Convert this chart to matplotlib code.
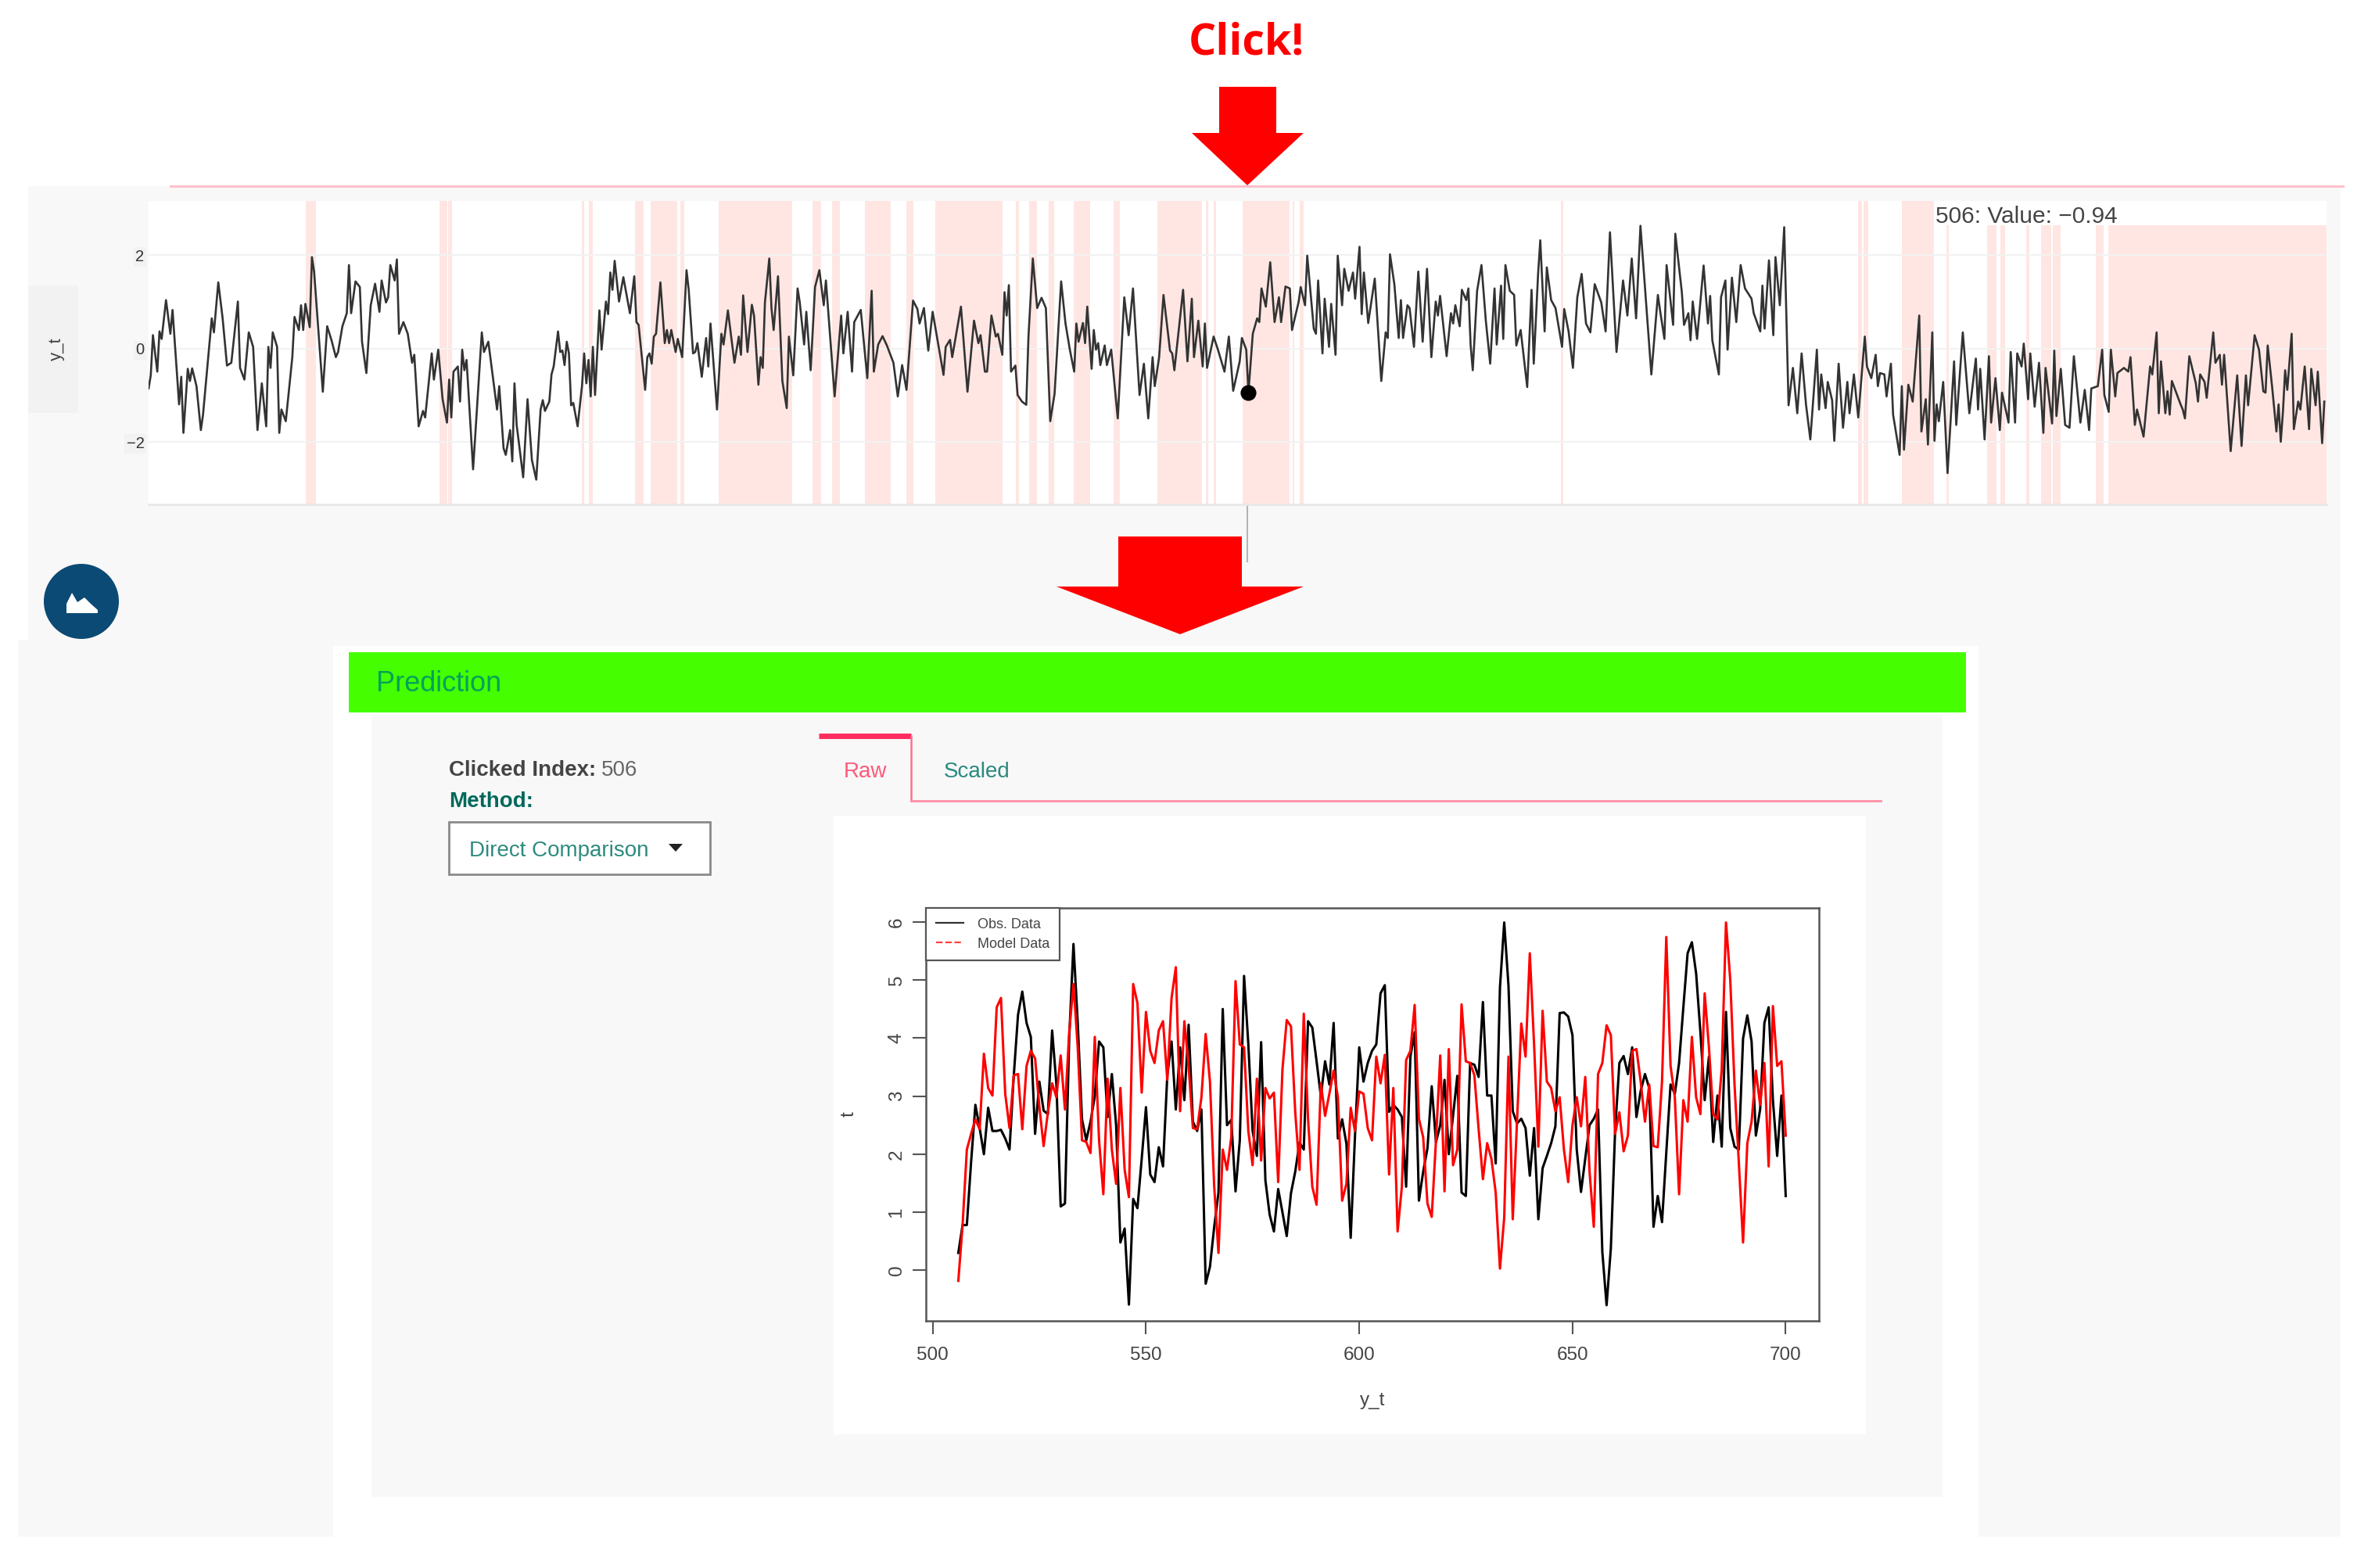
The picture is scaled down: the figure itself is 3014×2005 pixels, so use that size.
import matplotlib
matplotlib.use("Agg")
import matplotlib.pyplot as plt
import numpy as np
from matplotlib.lines import Line2D
from matplotlib.patches import Circle, Polygon, Rectangle

W, H = 3014, 2005

plt.rcParams["font.family"] = ["Liberation Sans", "DejaVu Sans"]

# top series: turning points (index, value)
top_index = [
    1, 2, 3, 5, 6, 7, 9, 11, 12, 13, 15, 16, 17, 19, 20, 21, 23, 25, 26, 30,
    31, 33, 35, 37, 39, 42, 43, 45, 47, 49, 51, 53, 55, 56, 57, 58, 60, 61, 62, 64,
    67, 68, 70, 71, 72, 73, 75, 76, 77, 81, 83, 85, 87, 88, 90, 92, 93, 94, 96, 98,
    99, 101, 103, 105, 107, 108, 110, 111, 112, 114, 115, 116, 118, 120, 122, 123, 125, 127, 128, 131,
    132, 134, 136, 138, 139, 140, 141, 143, 144, 145, 146, 147, 150, 154, 155, 157, 161, 162, 164, 165,
    167, 168, 169, 170, 173, 175, 177, 179, 181, 182, 183, 185, 186, 187, 189, 190, 191, 192, 193, 194,
    195, 196, 198, 200, 201, 202, 203, 204, 205, 206, 208, 209, 211, 212, 213, 214, 215, 217, 219, 222,
    224, 225, 226, 229, 230, 231, 232, 233, 234, 236, 238, 239, 240, 241, 243, 244, 246, 248, 249, 251,
    252, 253, 255, 257, 258, 259, 262, 264, 265, 267, 270, 272, 273, 274, 276, 278, 279, 281, 282, 283,
    284, 286, 287, 288, 290, 292, 294, 295, 297, 299, 300, 302, 303, 305, 307, 309, 311, 312, 316, 319,
    320, 322, 324, 325, 328, 331, 333, 334, 336, 338, 340, 343, 345, 347, 349, 352, 354, 355, 357, 359,
    361, 364, 366, 367, 369, 370, 374, 377, 380, 382, 383, 385, 386, 388, 390, 391, 393, 394, 395, 396,
    397, 399, 400, 402, 404, 405, 407, 409, 411, 413, 415, 417, 420, 422, 424, 426, 427, 428, 430, 431,
    432, 434, 435, 436, 437, 438, 440, 441, 443, 446, 449, 451, 453, 456, 458, 460, 462, 463, 465, 467,
    470, 471, 472, 476, 478, 480, 481, 483, 485, 486, 487, 490, 492, 495, 497, 499, 502, 503, 505, 506,
    508, 510, 511, 512, 514, 516, 518, 520, 521, 523, 525, 526, 529, 530, 532, 533, 536, 537, 538, 540,
    541, 543, 544, 546, 547, 549, 550, 552, 554, 555, 557, 558, 559, 561, 564, 567, 569, 570, 571, 573,
    575, 576, 577, 579, 580, 582, 584, 586, 588, 590, 592, 593, 594, 597, 599, 600, 601, 603, 604, 606,
    607, 608, 609, 611, 613, 615, 617, 619, 620, 622, 623, 624, 626, 628, 629, 631, 634, 636, 637, 639,
    640, 642, 643, 645, 647, 650, 651, 653, 655, 657, 659, 661, 663, 665, 668, 670, 672, 675, 678, 680,
    682, 684, 686, 691, 694, 695, 697, 698, 701, 702, 705, 706, 708, 709, 710, 712, 715, 717, 718, 719,
    722, 723, 725, 726, 728, 730, 732, 734, 737, 738, 741, 742, 743, 745, 747, 748, 750, 752, 754, 756,
    758, 760, 762, 764, 767, 768, 769, 771, 772, 774, 775, 777, 779, 781, 782, 784, 786, 789, 790, 792,
    794, 795, 796, 798, 799, 801, 802, 805, 806, 807, 809, 811, 814, 815, 817, 818, 820, 821, 822, 823,
    825, 827, 830, 831, 834, 837, 840, 841, 842, 844, 846, 847, 849, 851, 852, 855, 856, 858, 859, 861,
    862, 864, 865, 867, 869, 871, 872, 875, 876, 877, 879, 881, 883, 885, 888, 890, 892, 893, 896, 898,
    899, 901, 902, 904, 905, 908, 910, 911, 913, 914, 917, 920, 921, 923, 924, 925, 927, 928, 929, 930,
    934, 935, 936, 938, 941, 942, 943, 945, 946, 949, 950, 952, 953, 954, 957, 960, 962, 964, 965, 968,
    970, 972, 973, 974, 976, 978, 979, 980, 981, 982, 983, 985, 986, 988, 989, 991, 993, 994, 996, 997,
    999, 1000,
]
top_value = [
    -0.85, -0.57, 0.29, -0.49, 0.37, 0.21, 1.04, 0.32, 0.83, 0.15, -1.19, -0.60, -1.80, -0.43, -0.69, -0.42, -0.80, -1.74, -1.41, 0.65,
    0.35, 1.42, 0.65, -0.36, -0.30, 1.01, -0.41, -0.66, 0.35, 0.04, -1.74, -0.74, -1.66, 0.04, -0.41, 0.35, 0.04, -1.80, -1.30, -1.55,
    -0.18, 0.68, 0.40, 0.93, 0.40, 0.96, 0.46, 1.96, 1.65, -0.92, 0.48, 0.18, -0.18, -0.07, 0.48, 0.76, 1.79, 0.76, 1.44, 1.32,
    0.15, -0.52, 0.93, 1.39, 0.79, 1.46, 0.99, 1.10, 1.79, 1.46, 1.91, 0.32, 0.57, 0.32, -0.30, -0.13, -1.66, -1.33, -1.47, -0.10,
    -0.66, -0.02, -1.08, -1.58, -0.66, -1.47, -0.49, -0.38, -1.13, -0.02, -0.46, -0.24, -2.58, 0.35, -0.07, 0.15, -1.30, -0.80, -2.13, -2.27,
    -1.74, -2.41, -0.74, -1.63, -2.75, -1.08, -2.38, -2.80, -1.30, -1.10, -1.33, -1.13, -0.55, -0.38, 0.37, -0.07, -0.04, -0.35, 0.15, -0.10,
    -1.21, -1.16, -1.66, -0.80, -0.10, -0.74, -0.24, -1.02, 0.04, -0.99, 0.82, -0.02, 1.01, 0.74, 1.63, 1.26, 1.88, 1.01, 1.53, 0.76,
    1.55, 0.57, 0.51, -0.88, -0.18, -0.10, -0.32, 0.26, 0.32, 1.42, 0.12, 0.40, 0.12, 0.40, -0.07, 0.21, -0.18, 1.68, 1.26, -0.10,
    -0.07, 0.12, -0.60, 0.23, -0.38, 0.54, -1.30, 0.32, 0.09, 0.82, -0.30, 0.26, -0.13, 1.14, -0.07, 0.94, 0.71, -0.77, -0.18, -0.41,
    0.99, 1.93, 0.87, 0.40, 1.55, -0.69, -1.27, 0.26, -0.57, 1.29, 0.99, 0.09, 0.79, -0.46, 1.32, 1.68, 0.93, 1.46, -1.02, 0.71,
    -0.10, 0.79, -0.49, 0.57, 0.83, -0.63, 1.24, -0.49, 0.09, 0.27, 0.07, -0.30, -1.02, -0.35, -0.88, 1.03, 0.85, 0.54, 0.87, -0.04,
    0.79, -0.02, -0.56, 0.04, 0.19, -0.18, 0.90, -0.92, 0.60, 0.12, 0.29, -0.49, -0.49, 0.71, 0.26, 0.32, -0.13, 1.21, 0.71, 1.36,
    -0.49, -0.36, -0.99, -1.13, -1.20, 0.26, 1.93, 0.87, 1.09, 0.87, -1.55, -0.96, 1.44, 0.54, -0.02, -0.49, 0.54, 0.15, 0.55, 0.12,
    0.90, -0.43, 0.40, -0.02, 0.12, -0.35, 0.07, -0.35, -0.02, -1.49, 1.10, 0.29, 1.29, -0.99, -0.32, -1.49, -0.18, -0.80, -0.18, 1.15,
    -0.04, -0.10, -0.46, 1.26, -0.27, 1.07, -0.18, 0.60, -0.38, 0.54, -0.41, 0.26, -0.02, -0.49, 0.26, -0.90, -0.27, 0.23, -0.02, -0.94,
    0.32, 0.65, 0.57, 1.29, 0.90, 1.85, 0.57, 1.10, 0.57, 1.33, 1.29, 0.40, 0.99, 1.32, 0.93, 1.99, 0.43, 0.32, 1.46, -0.10,
    1.07, 0.04, 0.96, -0.13, 1.99, 0.93, 1.71, 1.24, 1.63, 1.07, 2.18, 0.74, 1.63, 0.55, 1.50, -0.69, 0.35, 0.23, 2.02, 1.38,
    0.23, 1.04, 0.23, 0.93, 0.87, 0.04, 1.65, 0.15, 1.71, -0.18, 1.01, 0.71, 1.13, -0.16, 0.76, 0.54, 0.93, 0.48, 1.26, 1.04,
    1.29, 0.09, -0.46, 1.24, 1.79, 0.60, -0.32, 1.29, 0.09, 1.35, 0.21, 1.79, 1.24, 1.15, 0.07, 0.40, -0.82, 1.26, -0.32, 1.60,
    2.32, 0.37, 1.74, 1.04, 0.87, 0.04, 0.85, 0.37, -0.41, 1.10, 1.60, 0.54, 0.35, 1.38, 0.99, 0.37, 2.49, -0.07, 1.46, 0.71,
    1.93, 0.65, 2.63, -0.55, 1.15, 0.82, 0.21, 1.79, 0.51, 2.46, 1.21, 0.51, 0.76, 0.18, 1.01, 0.21, 1.78, 0.54, 1.13, 0.18,
    -0.55, 1.10, 1.46, -0.02, 1.52, 0.57, 1.79, 1.29, 1.07, 0.76, 0.37, 1.35, 0.43, 1.89, 0.29, 1.96, 0.93, 2.60, -1.21, -0.41,
    -1.38, -0.10, -1.19, -1.94, -0.02, -1.30, -0.55, -1.27, -0.71, -1.10, -1.97, -0.32, -1.69, -0.71, -1.38, -0.55, -1.47, 0.26, -0.38, -0.63,
    -0.13, -0.80, -0.52, -0.55, -1.02, -0.32, -1.41, -2.27, -0.80, -2.16, -0.77, -1.13, 0.71, -1.77, -1.08, -2.05, 0.35, -1.97, -1.19, -1.55,
    -0.71, -2.66, -0.27, -1.63, 0.35, -1.38, -0.21, -1.30, -0.43, -1.94, -0.16, -1.58, -0.63, -1.74, -0.94, -1.58, -0.07, -1.58, -0.10, -0.38,
    0.11, -1.08, -0.10, -1.24, -0.30, -1.80, -0.41, -1.60, -0.04, -1.44, -0.43, -1.63, -1.69, -0.16, -1.58, -0.88, -1.74, -0.85, -0.80, -0.02,
    -0.99, -1.35, -0.02, -1.02, -0.52, -0.41, -0.49, -0.18, -1.63, -1.30, -1.88, -0.38, -0.55, 0.35, -1.38, -0.27, -1.38, -0.91, -1.41, -0.69,
    -1.19, -1.30, -1.49, -0.16, -0.74, -1.13, -0.55, -0.71, -1.05, 0.35, -0.30, -0.13, -0.77, -0.13, -2.19, -0.57, -2.08, -0.57, -1.21, 0.29,
    -0.02, -0.91, -0.94, 0.07, -0.80, -1.77, -1.19, -1.99, -1.35, -0.46, -0.88, 0.32, -1.72, -1.13, -1.30, -0.38, -1.72, -0.43, -1.21, -0.49,
    -2.02, -1.13,
]

# shaded anomaly ranges on the top chart
band_start = [
    73, 134.5, 138.6, 200, 203, 224.5, 231.4, 245, 262.7, 305.8, 315, 329.8,
    349, 362.2, 399.3, 405.2, 414.4, 425.6, 444.2, 464.3, 486.5, 490, 503.5,
    526.4, 529.4, 649.6, 786, 788.6, 806.2, 826.4, 845.3, 851.1, 863, 870,
    875.2, 895, 900.7,
]
band_end = [
    78, 138, 140.4, 201, 205, 228.4, 243.7, 247, 296.6, 309.7, 318.4, 341.7,
    352, 393.1, 400.7, 408.9, 416.9, 433.2, 447, 484.5, 487.7, 491, 524.8,
    527, 531.2, 650.7, 787.7, 790.5, 820.6, 827.7, 849.5, 853.4, 864.7, 874.6,
    878.8, 898.6, 1001,
]
clicked_index = 506
clicked_value = -0.94

pred_index = np.arange(506, 701)
obs_values = [
    0.30, 0.78, 0.78, 1.87, 2.85, 2.45, 2.00, 2.80, 2.40, 2.40,
    2.42, 2.27, 2.08, 3.35, 4.40, 4.80, 4.26, 4.02, 2.35, 3.25,
    2.75, 2.69, 4.13, 3.20, 1.10, 1.15, 4.00, 5.62, 4.26, 2.60,
    2.24, 2.56, 3.00, 3.94, 3.84, 2.64, 3.38, 2.50, 0.48, 0.72,
    -0.59, 1.23, 1.07, 1.92, 2.81, 1.65, 1.52, 2.12, 1.79, 3.36,
    3.94, 2.77, 3.84, 2.93, 4.23, 2.56, 2.40, 2.77, -0.23, 0.06,
    0.75, 1.34, 4.50, 2.50, 2.59, 1.36, 2.24, 5.07, 3.89, 2.40,
    1.97, 3.93, 1.55, 0.96, 0.67, 1.40, 1.00, 0.59, 1.33, 1.70,
    2.20, 2.08, 4.29, 4.18, 3.60, 3.00, 3.60, 3.20, 4.26, 2.27,
    2.60, 2.18, 0.56, 2.30, 3.84, 3.25, 3.57, 3.78, 3.89, 4.77,
    4.91, 2.73, 2.85, 2.77, 2.64, 1.44, 3.68, 4.10, 1.20, 1.70,
    2.10, 3.17, 2.21, 2.50, 3.28, 2.00, 2.66, 3.35, 1.34, 1.28,
    3.57, 3.54, 3.33, 4.62, 3.01, 3.01, 1.84, 4.87, 5.99, 4.90,
    2.74, 2.53, 2.61, 2.45, 1.63, 2.45, 0.88, 1.76, 1.97, 2.19,
    2.48, 4.43, 4.44, 4.37, 4.05, 2.08, 1.35, 1.92, 2.50, 2.61,
    2.77, 0.32, -0.60, 0.38, 2.40, 3.57, 3.69, 3.38, 3.84, 2.64,
    3.09, 3.38, 3.14, 0.75, 1.28, 0.83, 2.03, 3.20, 3.04, 3.57,
    4.53, 5.46, 5.65, 5.11, 4.10, 2.93, 3.68, 2.21, 3.01, 2.13,
    4.45, 2.45, 2.13, 2.08, 3.99, 4.39, 3.94, 2.32, 2.77, 4.26,
    4.53, 2.93, 1.97, 3.01, 1.28,
]
model_values = [
    -0.18, 0.78, 2.08, 2.35, 2.60, 2.43, 3.73, 3.14, 3.01, 4.53,
    4.69, 3.04, 2.45, 3.36, 3.38, 2.43, 3.52, 3.78, 3.65, 2.82,
    2.14, 2.72, 3.22, 2.98, 3.70, 2.77, 4.10, 4.93, 3.84, 2.24,
    2.21, 2.02, 4.02, 2.24, 1.31, 3.30, 2.08, 1.49, 3.14, 1.73,
    1.26, 4.93, 4.60, 3.06, 4.45, 3.78, 3.57, 4.13, 4.29, 3.28,
    4.69, 5.22, 2.74, 4.29, 3.52, 2.45, 2.43, 2.98, 4.07, 3.25,
    1.44, 0.30, 2.08, 1.73, 2.29, 4.98, 3.89, 3.84, 2.40, 1.81,
    3.30, 1.89, 3.14, 2.96, 3.06, 1.52, 3.46, 4.31, 4.20, 2.72,
    1.73, 4.42, 2.61, 1.44, 1.13, 3.22, 2.66, 3.04, 3.44, 2.98,
    1.20, 1.49, 2.80, 2.40, 3.08, 3.04, 2.45, 2.24, 3.68, 3.22,
    3.71, 1.65, 3.14, 0.67, 1.44, 3.62, 3.78, 4.57, 2.61, 2.29,
    1.15, 0.92, 2.24, 3.70, 1.36, 3.81, 1.81, 2.08, 4.58, 3.60,
    3.57, 3.36, 2.43, 1.57, 2.19, 1.92, 1.34, 0.03, 0.91, 3.68,
    0.88, 2.56, 4.25, 3.68, 5.46, 3.89, 2.13, 4.47, 3.25, 3.14,
    2.74, 2.98, 2.08, 1.52, 2.50, 2.98, 2.48, 3.33, 1.71, 0.75,
    3.38, 3.57, 4.22, 4.05, 2.35, 2.72, 2.05, 2.32, 3.78, 3.81,
    3.25, 2.56, 3.20, 2.14, 2.12, 3.25, 5.74, 3.52, 2.98, 1.31,
    2.93, 2.56, 4.02, 2.98, 2.69, 4.77, 3.84, 2.69, 2.60, 3.46,
    5.99, 5.00, 3.20, 1.87, 0.48, 2.19, 2.56, 3.44, 2.85, 3.57,
    1.79, 4.55, 3.52, 3.60, 2.32,
]

fig = plt.figure(figsize=(W / 100, H / 100), dpi=100)


def px_axes(left, top, right, bottom, **kwargs):
    """Axes placed by its pixel box on the page."""
    rect = [left / W, 1 - bottom / H, (right - left) / W, (bottom - top) / H]
    return fig.add_axes(rect, **kwargs)


# ── page furniture, in page pixels ────────────────────────────────────────

ui = fig.add_axes([0, 0, 1, 1], zorder=0)
ui.set_xlim(0, W)
ui.set_ylim(H, 0)
ui.axis("off")


def box(x0, y0, x1, y1, color, edge="none", lw=0, zorder=1):
    ui.add_patch(Rectangle((x0, y0), x1 - x0, y1 - y0, facecolor=color,
                           edgecolor=edge, linewidth=lw, zorder=zorder))


box(36, 238, 2993, 825, "#f8f8f8")
box(23, 818, 2993, 1965, "#f8f8f8")
box(426, 826, 2530, 1965, "white", zorder=2)
box(475, 914, 2484, 1914, "#f8f8f8", zorder=3)
box(1066, 1043, 2386, 1834, "white", zorder=4)
box(446, 834, 2514, 911, "#45ff00", zorder=5)
box(36, 365, 100, 528, "#f2f2f2", zorder=2)
box(574, 1051, 908, 1118, "white", edge="#8a8a8a", lw=2, zorder=5)

ui.plot([218, 2996], [238, 238], color="#ffc0cb", lw=2.2, zorder=3)
ui.plot([1595, 1595], [645, 718], color="#b5b5b5", lw=1.5, zorder=3)

# tabs
ui.plot([1047, 1165], [941, 941], color="#ff2d5f", lw=5, zorder=6,
        solid_capstyle="butt")
ui.plot([1165, 1165], [941, 1024], color="#ff6f8e", lw=1.8, zorder=6)
ui.plot([1165, 2405], [1024, 1024], color="#ff8fa5", lw=2, zorder=6)

# the two red arrows
ui.add_patch(Polygon([(1559, 111), (1632, 111), (1632, 170), (1667, 170),
                      (1595, 237), (1524, 170), (1559, 170)],
                     facecolor="#ff0000", zorder=6))
ui.add_patch(Polygon([(1430, 686), (1588, 686), (1588, 750), (1667, 750),
                      (1509, 811), (1351, 750), (1430, 750)],
                     facecolor="#ff0000", zorder=6))

# round icon button
ui.add_patch(Circle((104, 769), 48, facecolor="#0b4a75", zorder=6))
ui.add_patch(Polygon([(85, 784), (85, 772), (92, 758), (99, 770), (108, 764),
                      (116, 772), (125, 780), (125, 784)],
                     facecolor="white", zorder=7))

ui.text(1594, 55, "Click!", color="#ff0000", fontsize=40, fontweight="bold",
        family=["Open Sans", "DejaVu Sans"], ha="center", va="center", zorder=7)
ui.text(72, 446, "y_t", color="#444444", fontsize=16, rotation=90,
        ha="center", va="center", zorder=7)
ui.text(481, 874, "Prediction", color="#00a35a", fontsize=26, ha="left",
        va="center", zorder=7)
ui.text(574, 985, "Clicked Index:", color="#444444", fontsize=20,
        fontweight="bold", ha="left", va="center", zorder=7)
ui.text(769, 985, "506", color="#666666", fontsize=20, ha="left", va="center",
        zorder=7)
ui.text(574, 1025, "Method:", color="#00695c", fontsize=20, fontweight="bold",
        ha="left", va="center", zorder=7)
ui.text(600, 1088, "Direct Comparison", color="#2e8b7f", fontsize=20,
        ha="left", va="center", zorder=7)
ui.add_patch(Polygon([(855, 1079), (873, 1079), (864, 1089)],
                     facecolor="#222222", zorder=7))
ui.text(1106, 987, "Raw", color="#ff5a7a", fontsize=20, ha="center",
        va="center", zorder=7)
ui.text(1249, 987, "Scaled", color="#2a8a80", fontsize=20, ha="center",
        va="center", zorder=7)

# ── top chart ─────────────────────────────────────────────────────────────

ax_top = px_axes(190, 257, 2975, 645, zorder=2)
ax_top.set_facecolor("white")
for start, end in zip(band_start, band_end):
    ax_top.axvspan(start, end, facecolor="#ffe6e3", edgecolor="none", zorder=1)
ax_top.plot(top_index, top_value, color="#333333", lw=1.9, zorder=3,
            solid_joinstyle="round")
ax_top.plot([clicked_index], [clicked_value], "o", color="black",
            markersize=13.5, zorder=4)
ax_top.set_xlim(1, 1001)
ax_top.set_ylim(-3.33, 3.16)
ax_top.set_yticks([-2, 0, 2])
ax_top.set_yticklabels(["\u22122", "0", "2"], fontsize=14.5, color="#333333")
ax_top.set_xticks([])
ax_top.tick_params(axis="y", length=0, pad=4)
for label in ax_top.get_yticklabels():
    label.set_bbox(dict(facecolor="#f2f2f2", edgecolor="none", pad=2))
ax_top.grid(axis="y", color="#f2f2f2", lw=1.5, zorder=2)
ax_top.set_axisbelow(False)
for name, spine in ax_top.spines.items():
    spine.set_visible(name == "bottom")
ax_top.spines["bottom"].set_color("#e8e8e8")
ax_top.spines["bottom"].set_linewidth(2)
ax_top.add_patch(Rectangle((0.82, 0.92), 0.18, 0.08, transform=ax_top.transAxes,
                           facecolor="white", edgecolor="none", zorder=2))
ax_top.text(0.8205, 0.948, f"{clicked_index}: Value: \u22120.94", color="#444444",
            fontsize=21.5, transform=ax_top.transAxes, ha="left", va="center",
            zorder=5)

# ── prediction chart ──────────────────────────────────────────────────────

ax_pred = px_axes(1184, 1161, 2326, 1689, zorder=3)
ax_pred.plot(pred_index, obs_values, color="black", lw=2.2)
ax_pred.plot(pred_index, model_values, color="#ff0000", lw=2.2)
ax_pred.set_xlim(498.4, 707.8)
ax_pred.set_ylim(-0.87, 6.24)
ax_pred.set_xticks([500, 550, 600, 650, 700])
ax_pred.set_yticks([0, 1, 2, 3, 4, 5, 6])
ax_pred.tick_params(axis="both", length=12, width=1.5, color="#555555",
                    labelcolor="#444444", labelsize=17.5)
ax_pred.tick_params(axis="x", pad=12)
ax_pred.tick_params(axis="y", pad=7)
for label in ax_pred.get_yticklabels():
    label.set_rotation(90)
    label.set_va("center")
ax_pred.set_xlabel("y_t", fontsize=17.5, color="#444444", labelpad=26)
ax_pred.set_ylabel("t", fontsize=17.5, color="#444444", labelpad=28)
for spine in ax_pred.spines.values():
    spine.set_color("#555555")
    spine.set_linewidth(1.8)

handles = [
    Line2D([], [], color="#333333", lw=1.6),
    Line2D([], [], color="#ff4040", lw=1.6, ls="--"),
]
legend = ax_pred.legend(handles, ["Obs. Data", "Model Data"], loc="upper left",
                        borderaxespad=0, fontsize=13, fancybox=False,
                        framealpha=1, edgecolor="#555555", labelcolor="#444444",
                        labelspacing=0.45, handlelength=1.95, handletextpad=1.0,
                        borderpad=0.7)
legend.get_frame().set_linewidth(1.6)

fig.savefig("out.png", dpi=100, facecolor="white")
